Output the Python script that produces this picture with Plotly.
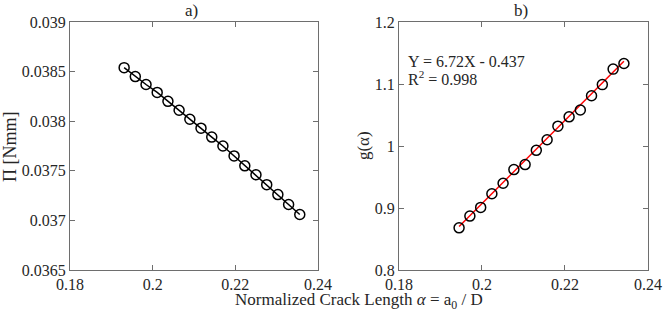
import plotly.graph_objects as go

# a) potential energy vs normalized crack length
alpha_a = [0.1931, 0.1958, 0.1984, 0.2011, 0.2037, 0.2064, 0.2090, 0.2117, 0.2143,
           0.2170, 0.2197, 0.2223, 0.2250, 0.2276, 0.2303, 0.2329, 0.2356]
energy = [0.03854, 0.03845, 0.03837, 0.03829, 0.03820, 0.03811, 0.03802, 0.03793, 0.03784,
          0.03775, 0.03765, 0.03755, 0.03746, 0.03736, 0.03726, 0.03716, 0.03706]

# b) g(alpha) with linear fit
alpha_b = [0.1945, 0.1971, 0.1997, 0.2024, 0.2051, 0.2077, 0.2104, 0.2131, 0.2157,
           0.2183, 0.2210, 0.2237, 0.2264, 0.2290, 0.2316, 0.2342]
g_alpha = [0.868, 0.887, 0.901, 0.923, 0.940, 0.962, 0.970, 0.993, 1.010,
           1.032, 1.047, 1.058, 1.081, 1.099, 1.124, 1.133]
slope = 6.72
intercept = -0.437
r_squared = 0.998

fit_x = [alpha_b[0], alpha_b[-1]]
fit_y = [slope * x + intercept for x in fit_x]

font = "Liberation Serif"
tick_size = 16
label_size = 17

fig = go.Figure()

fig.add_trace(go.Scatter(
    x=alpha_a, y=energy, mode="lines+markers",
    line=dict(color="black", width=1.5),
    marker=dict(symbol="circle-open", size=10, color="black", line=dict(width=1.5)),
    xaxis="x", yaxis="y"
))

fig.add_trace(go.Scatter(
    x=fit_x, y=fit_y, mode="lines",
    line=dict(color="red", width=1.5),
    xaxis="x2", yaxis="y2"
))

fig.add_trace(go.Scatter(
    x=alpha_b, y=g_alpha, mode="markers",
    marker=dict(symbol="circle-open", size=10, color="black", line=dict(width=1.5)),
    xaxis="x2", yaxis="y2"
))

axis_style = dict(
    showline=True, linecolor="#6e6e6e", linewidth=1, mirror="ticks",
    ticks="inside", ticklen=5, tickcolor="#6e6e6e",
    showgrid=False, zeroline=False, automargin=False,
    tickfont=dict(family=font, size=tick_size, color="#262626"),
)

fig.update_layout(
    width=664, height=326,
    margin=dict(l=70, r=16, t=22, b=56),
    plot_bgcolor="white", paper_bgcolor="white",
    showlegend=False,
    font=dict(family=font, size=label_size, color="#262626"),
    xaxis=dict(domain=[0, 0.429], range=[0.18, 0.24], tickvals=[0.18, 0.2, 0.22, 0.24],
               ticktext=["0.18", "0.2", "0.22", "0.24"], **axis_style),
    yaxis=dict(range=[0.0365, 0.039], tickvals=[0.0365, 0.037, 0.0375, 0.038, 0.0385, 0.039],
               ticktext=["0.0365", "0.037", "0.0375", "0.038", "0.0385", "0.039"],
               **axis_style),
    xaxis2=dict(domain=[0.569, 1], range=[0.18, 0.24], tickvals=[0.18, 0.2, 0.22, 0.24],
                ticktext=["0.18", "0.2", "0.22", "0.24"], anchor="y2", **axis_style),
    yaxis2=dict(range=[0.8, 1.2], tickvals=[0.8, 0.9, 1.0, 1.1, 1.2],
                ticktext=["0.8", "0.9", "1", "1.1", "1.2"], anchor="x2",
                **axis_style),
)

fig.add_annotation(text="a)", x=0.211, y=1.0, xref="paper", yref="paper",
                   xanchor="center", yanchor="bottom", showarrow=False)
fig.add_annotation(text="b)", x=0.780, y=1.0, xref="paper", yref="paper",
                   xanchor="center", yanchor="bottom", showarrow=False)
fig.add_annotation(text="Π [Nmm]", x=-0.104, y=0.5, xref="paper", yref="paper",
                   xanchor="center", yanchor="middle", textangle=-90, showarrow=False,
                   font=dict(size=18))
fig.add_annotation(text="g(α)", x=0.507, y=0.5, xref="paper", yref="paper",
                   xanchor="center", yanchor="middle", textangle=-90, showarrow=False)
fig.add_annotation(text="Normalized Crack Length <i>α</i> = a<sub>0</sub> / D",
                   x=0.5, y=-0.123, xref="paper", yref="paper",
                   xanchor="center", yanchor="middle", showarrow=False)

# fit equation, one line per annotation
fig.add_annotation(text=f"Y = {slope}X - {-intercept}",
                   x=0.1818, y=1.137, xref="x2", yref="y2", xanchor="left", yanchor="middle",
                   showarrow=False, font=dict(size=16))
fig.add_annotation(text=f"R<sup>2</sup> = {r_squared}",
                   x=0.1818, y=1.109, xref="x2", yref="y2", xanchor="left", yanchor="middle",
                   showarrow=False, font=dict(size=16))

# the default page has an 8px body margin; drop it so the figure fills the window
fig.write_html("out.html", config={"displayModeBar": False},
               post_script="document.body.style.margin = '0';")
